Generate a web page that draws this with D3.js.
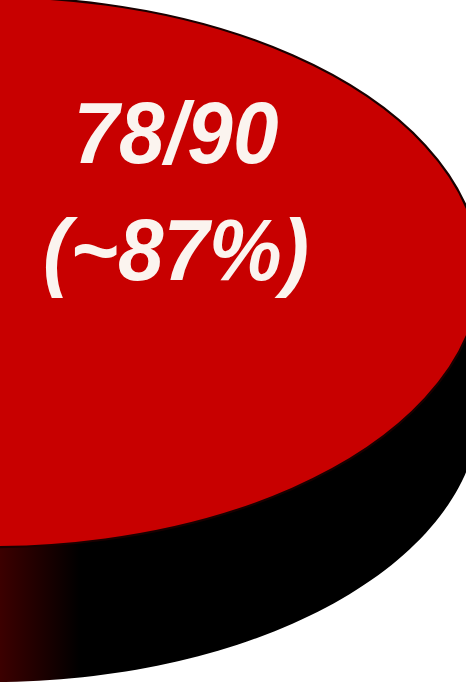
<!DOCTYPE html>
<html>
<head>
<meta charset="utf-8">
<script src="https://cdn.jsdelivr.net/npm/d3@7"></script>
<style>
  html, body { margin: 0; padding: 0; background: #ffffff; }
  svg { display: block; }
</style>
</head>
<body>
<svg id="chart" width="466" height="689"></svg>
<script>
// Answer counts shown on the pie
const categories = ["Correct", "Other"];
const values = [78, 12];
const colors = ["#c80000", "#7a7a7a"];
const sideColors = ["#000000", "#2a2a2a"];

const W = 466, H = 689;
const cx = -8, cy = 272;       // centre of the top face
const rx = 488, ry = 275;      // ellipse radii of the top face
const depth = 135;             // thickness of the disc

const total = d3.sum(values);
const svg = d3.select("#chart");

const defs = svg.append("defs");
const grad = defs.append("linearGradient")
  .attr("id", "sideShade")
  .attr("gradientUnits", "userSpaceOnUse")
  .attr("x1", 0).attr("y1", 0).attr("x2", 80).attr("y2", 0);
grad.append("stop").attr("offset", 0).attr("stop-color", "#3c0000");
grad.append("stop").attr("offset", 1).attr("stop-color", "#000000");

// The small slice sits on the far left, the big one wraps around the right
const startA = -Math.PI / 2 + (values[1] / total) * Math.PI;
const pie = d3.pie().sort(null)
  .startAngle(startA)
  .endAngle(startA + 2 * Math.PI);
const arcs = pie(values);

const ex = a => cx + rx * Math.sin(a);
const ey = (a, dy) => cy - ry * Math.cos(a) + dy;

// Visible (front) side wall of a slice between angles a0..a1
function sidePath(a0, a1) {
  const segs = [];
  const add = (s, e) => { if (e > s) segs.push([s, e]); };
  add(Math.max(a0, Math.PI / 2), Math.min(a1, 3 * Math.PI / 2));
  add(Math.max(a0, Math.PI / 2 + 2 * Math.PI), Math.min(a1, 3 * Math.PI / 2 + 2 * Math.PI));
  return segs.map(([s, e]) => {
    const n = 120, upper = [], lower = [];
    for (let i = 0; i <= n; i++) {
      const a = s + (e - s) * i / n;
      upper.push([ex(a), ey(a, 0)]);
      lower.push([ex(a), ey(a, depth)]);
    }
    return "M" + upper.map(p => p.join(",")).join("L") +
           "L" + lower.reverse().map(p => p.join(",")).join("L") + "Z";
  }).join("");
}

const sides = svg.append("g");
arcs.forEach((d, i) => {
  const p = sidePath(d.startAngle, d.endAngle);
  if (p) sides.append("path").attr("d", p)
    .attr("fill", i === 0 ? "url(#sideShade)" : sideColors[i]);
});

// Top face: a circular arc squashed into an ellipse
const arc = d3.arc().innerRadius(0).outerRadius(rx);
const face = svg.append("g")
  .attr("transform", `translate(${cx},${cy}) scale(1,${ry / rx})`);
face.selectAll("path").data(arcs).join("path")
  .attr("d", arc)
  .attr("fill", (d, i) => colors[i])
  .attr("stroke", "#1a0000")
  .attr("stroke-width", 2.2)
  .attr("vector-effect", "non-scaling-stroke");

// Label of the large slice, set slightly condensed
const main = arcs[0];
const label = svg.append("g")
  .attr("transform", `translate(${cx + 184},0) scale(0.93,1)`)
  .append("text")
  .attr("text-anchor", "middle")
  .attr("fill", "#fbf4ef")
  .attr("font-family", "'Liberation Sans', Arial, sans-serif")
  .attr("font-weight", "bold")
  .attr("font-style", "italic")
  .attr("font-size", 88);
label.append("tspan").attr("x", 0).attr("y", 163)
  .text(`${main.data}/${total}`);
label.append("tspan").attr("x", 0).attr("y", 280)
  .text(`(~${Math.round(main.data / total * 100)}%)`);
</script>
</body>
</html>
